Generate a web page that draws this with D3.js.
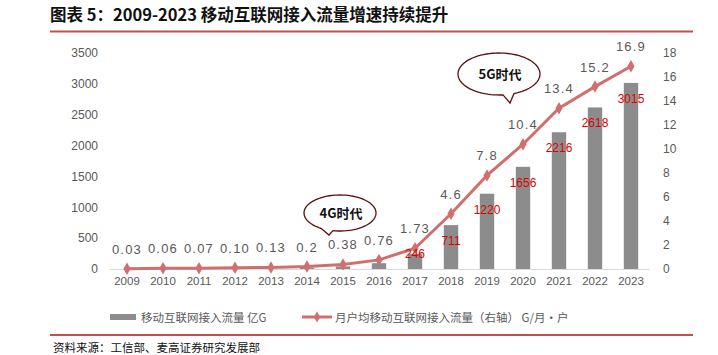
<!DOCTYPE html>
<html><head><meta charset="utf-8">
<script src="https://cdn.jsdelivr.net/npm/d3@7"></script>
<style>
html,body{margin:0;padding:0;background:#fff;}
svg{display:block;font-family:"Noto Sans CJK SC","Noto Sans",sans-serif;}
</style></head>
<body>
<svg id="c" width="718" height="355"></svg>
<script>
const years = ["2009","2010","2011","2012","2013","2014","2015","2016","2017","2018","2019","2020","2021","2022","2023"];
const traffic = [0.3, 0.6, 0.9, 1.2, 1.5, 20, 42, 94, 246, 711, 1220, 1656, 2216, 2618, 3015];
const trafficLabels = ["","","","","","","","","246","711","1220","1656","2216","2618","3015"];
const perUser = [0.03, 0.06, 0.07, 0.10, 0.13, 0.2, 0.38, 0.76, 1.73, 4.6, 7.8, 10.4, 13.4, 15.2, 16.9];
const perUserLabels = ["0.03","0.06","0.07","0.10","0.13","0.2","0.38","0.76","1.73","4.6","7.8","10.4","13.4","15.2","16.9"];
const leftTicks = [0,500,1000,1500,2000,2500,3000,3500];
const rightTicks = [0,2,4,6,8,10,12,14,16,18];
const legendNames = ["移动互联网接入流量 亿G","月户均移动互联网接入流量（右轴） G/月•户"];
const title = "图表 5：2009-2023 移动互联网接入流量增速持续提升";
const source = "资料来源：工信部、麦高证券研究发展部";

const svg = d3.select("#c");
const x = d3.scaleBand().domain(years).range([109,649]).paddingInner(0.6).paddingOuter(0.3);
const xc = d => x(d) + x.bandwidth()/2;
const yL = d3.scaleLinear().domain([0,3500]).range([269,53]);
const yR = d3.scaleLinear().domain([0,18]).range([269,53]);

// title
svg.append("text").attr("x",50).attr("y",21).attr("font-size",16.5).attr("font-weight","bold")
  .attr("fill","#111").text(title);
svg.append("line").attr("x1",50).attr("x2",693).attr("y1",31.5).attr("y2",31.5).attr("stroke","#c0504d").attr("stroke-width",2);

// axes
const gl = svg.append("g").attr("transform","translate(101,0)")
  .call(d3.axisLeft(yL).tickValues(leftTicks).tickFormat(d3.format("d")).tickSize(0).tickPadding(3));
gl.select(".domain").remove();
gl.selectAll("text").attr("font-size",12).attr("fill","#595959").attr("font-family","Liberation Sans, Arial, sans-serif");
const gr = svg.append("g").attr("transform","translate(660,0)")
  .call(d3.axisRight(yR).tickValues(rightTicks).tickFormat(d3.format("d")).tickSize(0).tickPadding(3));
gr.select(".domain").remove();
gr.selectAll("text").attr("font-size",12).attr("fill","#595959").attr("font-family","Liberation Sans, Arial, sans-serif");
const gx = svg.append("g").attr("transform","translate(0,269)")
  .call(d3.axisBottom(x).tickSize(0).tickPadding(8));
gx.select(".domain").attr("stroke","#d9d9d9").attr("stroke-width",1.2);
gx.selectAll("text").attr("font-size",11.5).attr("fill","#595959").attr("font-family","Liberation Sans, Arial, sans-serif");

// bars
svg.append("g").selectAll("rect").data(years).join("rect")
  .attr("x",d=>x(d)).attr("width",x.bandwidth())
  .attr("y",(d,i)=>yL(traffic[i])).attr("height",(d,i)=>269-yL(traffic[i]))
  .attr("fill","#8c8c8c");

// line
const line = d3.line().x((d,i)=>xc(years[i])).y(d=>yR(d));
svg.append("path").datum(perUser).attr("d",line).attr("fill","none")
  .attr("stroke","#d0706e").attr("stroke-width",3);
svg.append("g").selectAll("path").data(perUser).join("path")
  .attr("transform",(d,i)=>`translate(${xc(years[i])},${yR(d)})`)
  .attr("d",d3.symbol(d3.symbolDiamond,45)).attr("fill","#d0706e");

// bar labels
svg.append("g").selectAll("text").data(trafficLabels).join("text")
  .attr("x",(d,i)=>xc(years[i])).attr("y",(d,i)=>Math.min(yL(traffic[i])+20,258))
  .attr("text-anchor","middle").attr("font-size",12).attr("fill","#e00000")
  .attr("font-family","Liberation Sans, Arial, sans-serif").text(d=>d);

// line labels
svg.append("g").selectAll("text").data(perUserLabels).join("text")
  .attr("x",(d,i)=>xc(years[i])).attr("y",(d,i)=>yR(perUser[i])-15)
  .attr("text-anchor","middle").attr("font-size",13).attr("fill","#595959")
  .attr("letter-spacing",1.2)
  .attr("font-family","Liberation Sans, Arial, sans-serif").text(d=>d);

// callouts
function callout(cx,cy,rx,ry,tx1,tx2,px,py,label){
  const g = svg.append("g");
  const ang = t => [cx+rx*Math.cos(t), cy+ry*Math.sin(t)];
  const t1 = Math.acos((tx1-cx)/rx), t2 = Math.acos((tx2-cx)/rx);
  const s1 = ang(t1), s2 = ang(t2);
  const p = d3.path();
  p.moveTo(s1[0],s1[1]);
  p.lineTo(px,py);
  p.lineTo(s2[0],s2[1]);
  const N=80;
  let start=t2, end=t1+2*Math.PI;
  for(let k=1;k<=N;k++){const t=start+(end-start)*k/N; const q=ang(t); p.lineTo(q[0],q[1]);}
  p.closePath();
  g.append("path").attr("d",p.toString()).attr("fill","#fff").attr("stroke","#5c0f0f").attr("stroke-width",1.3);
  g.append("text").attr("x",cx+1).attr("y",cy+5).attr("text-anchor","middle")
    .attr("font-size",13).attr("font-weight","bold").attr("fill","#111").text(label);
}
callout(340,213,36,18,333,321,329,235,"4G时代");
callout(499,74,41,21,514,503,510,103,"5G时代");

// legend
const lg = svg.append("g");
lg.append("rect").attr("x",110).attr("y",314).attr("width",26).attr("height",6).attr("fill","#8c8c8c");
lg.append("text").attr("x",141).attr("y",321.5).attr("font-size",11.5).attr("fill","#595959").text(legendNames[0]);
lg.append("line").attr("x1",302).attr("x2",332).attr("y1",317).attr("y2",317).attr("stroke","#d0706e").attr("stroke-width",3);
lg.append("path").attr("transform","translate(317,317)").attr("d",d3.symbol(d3.symbolDiamond,35)).attr("fill","#d0706e");
lg.append("text").attr("x",335).attr("y",321.5).attr("font-size",11.5).attr("fill","#595959").text(legendNames[1]);

svg.append("line").attr("x1",50).attr("x2",693).attr("y1",335).attr("y2",335).attr("stroke","#c0504d").attr("stroke-width",2);
svg.append("text").attr("x",53).attr("y",352).attr("font-size",11.5).attr("fill","#111").text(source);
</script>
</body></html>
